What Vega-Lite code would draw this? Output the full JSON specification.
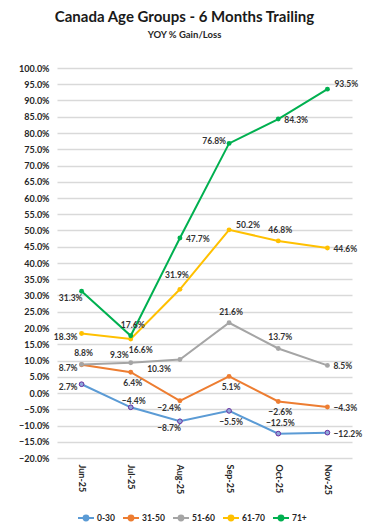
{
  "$schema": "https://vega.github.io/schema/vega-lite/v6.json",
  "width": 295,
  "height": 390,
  "autosize": {"type": "none"},
  "padding": {"left": 57, "top": 68, "right": 18, "bottom": 72},
  "background": "white",
  "title": {
    "text": "Canada Age Groups - 6 Months Trailing",
    "subtitle": "YOY % Gain/Loss",
    "font": "Lato", "fontSize": 15, "fontWeight": "bold", "color": "#1a1a1a",
    "subtitleFont": "Lato", "subtitleFontSize": 9.5, "subtitleFontWeight": "bold", "subtitleColor": "#262626",
    "subtitlePadding": 5, "anchor": "middle", "dx": -20, "offset": 25
  },
  "config": {"view": {"stroke": null}, "font": "Lato"},
  "data": {"values": [
    {"m": "Jun-25", "g": "0-30", "v": 0.027},
    {"m": "Jul-25", "g": "0-30", "v": -0.044},
    {"m": "Aug-25", "g": "0-30", "v": -0.087},
    {"m": "Sep-25", "g": "0-30", "v": -0.055},
    {"m": "Oct-25", "g": "0-30", "v": -0.125},
    {"m": "Nov-25", "g": "0-30", "v": -0.122},
    {"m": "Jun-25", "g": "31-50", "v": 0.087},
    {"m": "Jul-25", "g": "31-50", "v": 0.064},
    {"m": "Aug-25", "g": "31-50", "v": -0.024},
    {"m": "Sep-25", "g": "31-50", "v": 0.051},
    {"m": "Oct-25", "g": "31-50", "v": -0.026},
    {"m": "Nov-25", "g": "31-50", "v": -0.043},
    {"m": "Jun-25", "g": "51-60", "v": 0.088},
    {"m": "Jul-25", "g": "51-60", "v": 0.093},
    {"m": "Aug-25", "g": "51-60", "v": 0.103},
    {"m": "Sep-25", "g": "51-60", "v": 0.216},
    {"m": "Oct-25", "g": "51-60", "v": 0.137},
    {"m": "Nov-25", "g": "51-60", "v": 0.085},
    {"m": "Jun-25", "g": "61-70", "v": 0.183},
    {"m": "Jul-25", "g": "61-70", "v": 0.166},
    {"m": "Aug-25", "g": "61-70", "v": 0.319},
    {"m": "Sep-25", "g": "61-70", "v": 0.502},
    {"m": "Oct-25", "g": "61-70", "v": 0.468},
    {"m": "Nov-25", "g": "61-70", "v": 0.446},
    {"m": "Jun-25", "g": "71+", "v": 0.313},
    {"m": "Jul-25", "g": "71+", "v": 0.176},
    {"m": "Aug-25", "g": "71+", "v": 0.477},
    {"m": "Sep-25", "g": "71+", "v": 0.768},
    {"m": "Oct-25", "g": "71+", "v": 0.843},
    {"m": "Nov-25", "g": "71+", "v": 0.935}
  ]},
  "encoding": {
    "x": {
      "field": "m", "type": "ordinal",
      "sort": ["Jun-25", "Jul-25", "Aug-25", "Sep-25", "Oct-25", "Nov-25"],
      "scale": {"type": "point", "padding": 0.5},
      "axis": {"title": null, "labelAngle": 90, "domain": false, "ticks": false, "grid": false, "labelPadding": 6,
               "labelFont": "Lato", "labelFontSize": 9, "labelFontWeight": "bold", "labelColor": "#262626"}
    },
    "y": {
      "field": "v", "type": "quantitative",
      "scale": {"domain": [-0.2, 1.0], "nice": false, "zero": false},
      "axis": {"title": null, "format": ".1%", "domain": false, "ticks": false,
               "values": [-0.2, -0.15, -0.1, -0.05, 0, 0.05, 0.1, 0.15, 0.2, 0.25, 0.3, 0.35, 0.4, 0.45, 0.5, 0.55, 0.6, 0.65, 0.7, 0.75, 0.8, 0.85, 0.9, 0.95, 1.0],
               "gridColor": "#d9d9d9", "gridWidth": 1.3, "labelPadding": 8,
               "labelFont": "Lato", "labelFontSize": 9, "labelFontWeight": "bold", "labelColor": "#262626"}
    },
    "color": {
      "field": "g", "type": "nominal",
      "scale": {"domain": ["0-30", "31-50", "51-60", "61-70", "71+"],
                "range": ["#5B9BD5", "#ED7D31", "#A5A5A5", "#FFC000", "#00B050"]},
      "legend": {"orient": "none", "legendX": 20, "legendY": 441, "direction": "horizontal", "title": null,
                 "gridAlign": "none", "columns": 5,
                 "symbolType": "M-1,0L1,0M-0.3,0A0.3,0.3 0 1 1 0.3,0A0.3,0.3 0 1 1 -0.3,0",
                 "symbolSize": 256, "symbolStrokeWidth": 2, "columnPadding": 4, "labelOffset": 2,
                 "labelFont": "Lato", "labelFontSize": 8.5, "labelFontWeight": "bold", "labelColor": "#262626"}
    }
  },
  "layer": [
    {"mark": {"type": "line", "strokeWidth": 2}},
    {"mark": {"type": "circle", "size": 24, "opacity": 1}},
    {"transform": [{"filter": "datum.g == '0-30'"}],
     "mark": {"type": "circle", "size": 22, "stroke": "#7030A0", "strokeWidth": 1, "opacity": 1},
     "encoding": {"color": {"value": "#8EA9DB"}}},
    {"transform": [{"filter": "indexof(['71+|Aug-25','71+|Oct-25','61-70|Nov-25','51-60|Nov-25','31-50|Nov-25','0-30|Nov-25'], datum.g + '|' + datum.m) >= 0"}],
     "mark": {"type": "text", "align": "left", "dx": 6, "dy": 1, "font": "Lato", "fontSize": 8.5, "fontWeight": "bold"},
     "encoding": {"text": {"field": "v", "type": "quantitative", "format": ".1%"}, "color": {"value": "#333333"}}},
    {"transform": [{"filter": "indexof(['71+|Nov-25','61-70|Sep-25'], datum.g + '|' + datum.m) >= 0"}],
     "mark": {"type": "text", "align": "left", "dx": 7, "dy": -5, "font": "Lato", "fontSize": 8.5, "fontWeight": "bold"},
     "encoding": {"text": {"field": "v", "type": "quantitative", "format": ".1%"}, "color": {"value": "#333333"}}},
    {"transform": [{"filter": "indexof(['61-70|Jun-25','31-50|Jun-25','0-30|Jun-25'], datum.g + '|' + datum.m) >= 0"}],
     "mark": {"type": "text", "align": "right", "dx": -4, "dy": 3, "font": "Lato", "fontSize": 8.5, "fontWeight": "bold"},
     "encoding": {"text": {"field": "v", "type": "quantitative", "format": ".1%"}, "color": {"value": "#333333"}}},
    {"transform": [{"filter": "indexof(['71+|Sep-25'], datum.g + '|' + datum.m) >= 0"}],
     "mark": {"type": "text", "align": "right", "dx": -3, "dy": -2, "font": "Lato", "fontSize": 8.5, "fontWeight": "bold"},
     "encoding": {"text": {"field": "v", "type": "quantitative", "format": ".1%"}, "color": {"value": "#333333"}}},
    {"transform": [{"filter": "indexof(['71+|Jul-25','61-70|Oct-25','51-60|Jun-25','51-60|Sep-25','51-60|Oct-25','0-30|Oct-25'], datum.g + '|' + datum.m) >= 0"}],
     "mark": {"type": "text", "align": "center", "dx": 2, "dy": -11, "font": "Lato", "fontSize": 8.5, "fontWeight": "bold"},
     "encoding": {"text": {"field": "v", "type": "quantitative", "format": ".1%"}, "color": {"value": "#333333"}}},
    {"transform": [{"filter": "indexof(['31-50|Jul-25','31-50|Sep-25','31-50|Oct-25','0-30|Sep-25'], datum.g + '|' + datum.m) >= 0"}],
     "mark": {"type": "text", "align": "center", "dx": 2, "dy": 11, "font": "Lato", "fontSize": 8.5, "fontWeight": "bold"},
     "encoding": {"text": {"field": "v", "type": "quantitative", "format": ".1%"}, "color": {"value": "#333333"}}},
    {"transform": [{"filter": "indexof(['61-70|Jul-25'], datum.g + '|' + datum.m) >= 0"}],
     "mark": {"type": "text", "align": "center", "dx": 10, "dy": 11, "font": "Lato", "fontSize": 8.5, "fontWeight": "bold"},
     "encoding": {"text": {"field": "v", "type": "quantitative", "format": ".1%"}, "color": {"value": "#333333"}}},
    {"transform": [{"filter": "indexof(['71+|Jun-25','0-30|Aug-25','31-50|Aug-25'], datum.g + '|' + datum.m) >= 0"}],
     "mark": {"type": "text", "align": "right", "dx": 1, "dy": 7, "font": "Lato", "fontSize": 8.5, "fontWeight": "bold"},
     "encoding": {"text": {"field": "v", "type": "quantitative", "format": ".1%"}, "color": {"value": "#333333"}}},
    {"transform": [{"filter": "indexof(['51-60|Aug-25'], datum.g + '|' + datum.m) >= 0"}],
     "mark": {"type": "text", "align": "right", "dx": -9, "dy": 9, "font": "Lato", "fontSize": 8.5, "fontWeight": "bold"},
     "encoding": {"text": {"field": "v", "type": "quantitative", "format": ".1%"}, "color": {"value": "#333333"}}},
    {"transform": [{"filter": "indexof(['51-60|Jul-25'], datum.g + '|' + datum.m) >= 0"}],
     "mark": {"type": "text", "align": "right", "dx": -2, "dy": -8, "font": "Lato", "fontSize": 8.5, "fontWeight": "bold"},
     "encoding": {"text": {"field": "v", "type": "quantitative", "format": ".1%"}, "color": {"value": "#333333"}}},
    {"transform": [{"filter": "indexof(['61-70|Aug-25'], datum.g + '|' + datum.m) >= 0"}],
     "mark": {"type": "text", "align": "center", "dx": -3, "dy": -14, "font": "Lato", "fontSize": 8.5, "fontWeight": "bold"},
     "encoding": {"text": {"field": "v", "type": "quantitative", "format": ".1%"}, "color": {"value": "#333333"}}},
    {"transform": [{"filter": "indexof(['0-30|Jul-25'], datum.g + '|' + datum.m) >= 0"}],
     "mark": {"type": "text", "align": "center", "dx": 3, "dy": -6, "font": "Lato", "fontSize": 8.5, "fontWeight": "bold"},
     "encoding": {"text": {"field": "v", "type": "quantitative", "format": ".1%"}, "color": {"value": "#333333"}}}
  ]
}
